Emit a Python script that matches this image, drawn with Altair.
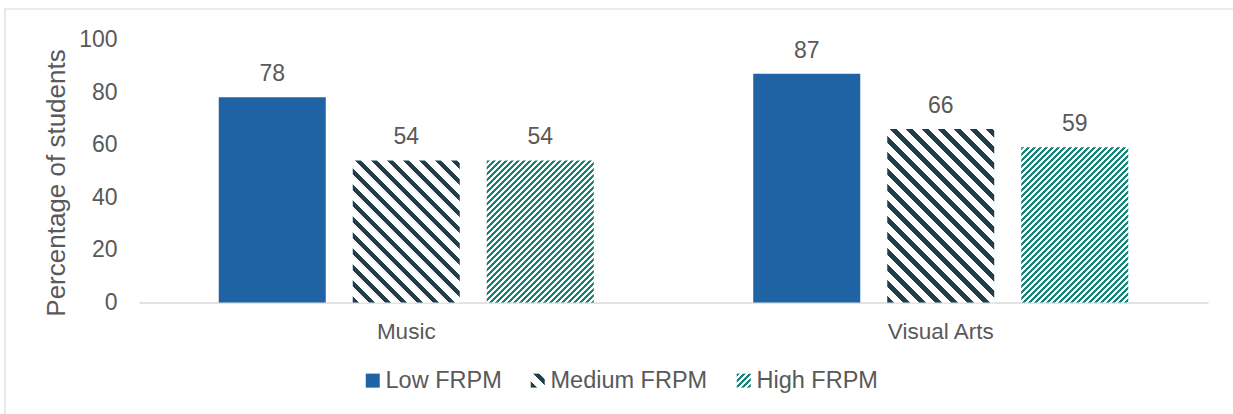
import json
import altair as alt
import pandas as pd

# Share of students by school poverty level (FRPM = free/reduced-price meals)
subjects = ["Music", "Visual Arts"]
groups = ["Low FRPM", "Medium FRPM", "High FRPM"]
low_frpm = [78, 87]
medium_frpm = [54, 66]
high_frpm = [54, 59]
y_ticks = [0, 20, 40, 60, 80, 100]

series = {"Low FRPM": low_frpm, "Medium FRPM": medium_frpm, "High FRPM": high_frpm}
df = pd.DataFrame(
    [{"subject": s, "group": g, "value": series[g][i]}
     for i, s in enumerate(subjects) for g in groups]
)

# layout of the plot area (pixels)
PLOT_W, PLOT_H = 1069, 263
PAD_L, PAD_T = 139, 39.5
X_PAD_INNER, X_PAD_OUTER = 0.2984, 0.1492
OFF_PAD_INNER = 27 / 134

BLUE = "#1f63a5"
SLATE = "#213e4b"
TEAL = "#138475"
TEXT = "#595959"
FONT = "Liberation Sans"


def stripes(w, h, color, period, dark, direction):
    """Hatched fill as a hard-stop linear gradient (bounding-box units).

    direction "down" draws '\\' stripes, "up" draws '/' stripes; period is
    the horizontal/vertical repeat in pixels for a w x h box."""
    t = (w + h) / (w * w + h * h)
    if direction == "down":
        x1, y1, x2, y2 = 0, 1, t * w, 1 - t * h
    else:
        x1, y1, x2, y2 = 0, 0, t * w, t * h
    f = period / (w + h)
    stops = []
    k = 0
    while k * f < 1:
        a = k * f
        b = min(a + dark * f, 1)
        c = min((k + 1) * f, 1)
        stops += [
            {"offset": round(a, 5), "color": color},
            {"offset": round(b, 5), "color": color},
            {"offset": round(b, 5), "color": "white"},
            {"offset": round(c, 5), "color": "white"},
        ]
        k += 1
    return {"gradient": "linear", "x1": x1, "y1": y1, "x2": x2, "y2": y2,
            "stops": stops}


hatch = {
    "Medium FRPM": dict(color=SLATE, period=16, dark=0.4, direction="down"),
    "High FRPM": dict(color=TEAL, period=6, dark=0.56, direction="up"),
}

# bar geometry derived from the band scales
x_step = PLOT_W / (len(subjects) - X_PAD_INNER + 2 * X_PAD_OUTER)
x_band = x_step * (1 - X_PAD_INNER)
off_step = x_band / (len(groups) - OFF_PAD_INNER)
bar_w = off_step * (1 - OFF_PAD_INNER)

SYM = 14
legend_range = [
    BLUE,
    alt.ExprRef(json.dumps(stripes(SYM, SYM, **hatch["Medium FRPM"]))),
    alt.ExprRef(json.dumps(stripes(SYM, SYM, **hatch["High FRPM"]))),
]

x_enc = alt.X(
    "subject:N",
    scale=alt.Scale(domain=subjects, paddingInner=X_PAD_INNER, paddingOuter=X_PAD_OUTER),
    axis=alt.Axis(title=None, labelAngle=0, labelFontSize=22.5, labelFont=FONT,
                  labelColor=TEXT, labelPadding=18, ticks=False, tickSize=0,
                  domainColor="#d9d9d9", domainWidth=1.5, grid=False),
)
off_enc = alt.XOffset(
    "group:N",
    scale=alt.Scale(domain=groups, paddingInner=OFF_PAD_INNER, paddingOuter=0),
)
y_enc = alt.Y(
    "value:Q",
    scale=alt.Scale(domain=[0, 100], nice=False),
    axis=alt.Axis(values=y_ticks, title="Percentage of students", titleFontSize=26,
                  titleFont=FONT, titleFontWeight="normal", titleColor=TEXT,
                  titleX=-75, titleY=143, titleBaseline="alphabetic",
                  labelFontSize=23, labelFont=FONT, labelColor=TEXT, labelPadding=22,
                  domain=False, ticks=False, tickSize=0, grid=False),
)

base = alt.Chart(df)

solid = base.transform_filter(alt.datum.group == "Low FRPM").mark_bar().encode(
    x=x_enc, xOffset=off_enc, y=y_enc,
    color=alt.Color(
        "group:N",
        scale=alt.Scale(domain=groups, range=legend_range),
        legend=alt.Legend(title=None, orient="none", direction="horizontal",
                          legendX=222, legendY=329, padding=0, symbolType="square",
                          symbolSize=SYM * SYM, symbolStrokeWidth=0,
                          labelFontSize=23.5, labelFont=FONT, labelColor=TEXT,
                          labelOffset=1, columnPadding=24),
    ),
)

layers = [solid]
for i, s in enumerate(subjects):
    for g in ("Medium FRPM", "High FRPM"):
        h = series[g][i] / 100 * PLOT_H
        grad = stripes(bar_w, h, **hatch[g])
        layers.append(
            base.transform_filter((alt.datum.subject == s) & (alt.datum.group == g))
            .mark_bar(fill=grad)
            .encode(x=x_enc, xOffset=off_enc, y=y_enc)
        )

labels = base.mark_text(dy=-16, baseline="alphabetic", fontSize=23, font=FONT,
                        color=TEXT).encode(
    x=x_enc, xOffset=off_enc, y=y_enc, text=alt.Text("value:Q")
)
layers.append(labels)

frame = alt.Chart(pd.DataFrame({"k": [0]})).mark_rect(
    fill="transparent", stroke="#d9d9d9", strokeWidth=1.2
).encode(
    x=alt.value(5 - PAD_L), x2=alt.value(1239 - PAD_L),
    y=alt.value(9 - PAD_T), y2=alt.value(420 - PAD_T),
)

chart = alt.layer(frame, *layers).properties(
    width=PLOT_W, height=PLOT_H,
    autosize=alt.AutoSizeParams(type="none"),
    padding={"left": PAD_L, "top": PAD_T, "right": 1233 - PAD_L - PLOT_W,
             "bottom": 414 - PAD_T - PLOT_H},
    background="white",
).configure_view(stroke=None)

chart.save("out.html", embed_options={"renderer": "svg", "actions": False})
